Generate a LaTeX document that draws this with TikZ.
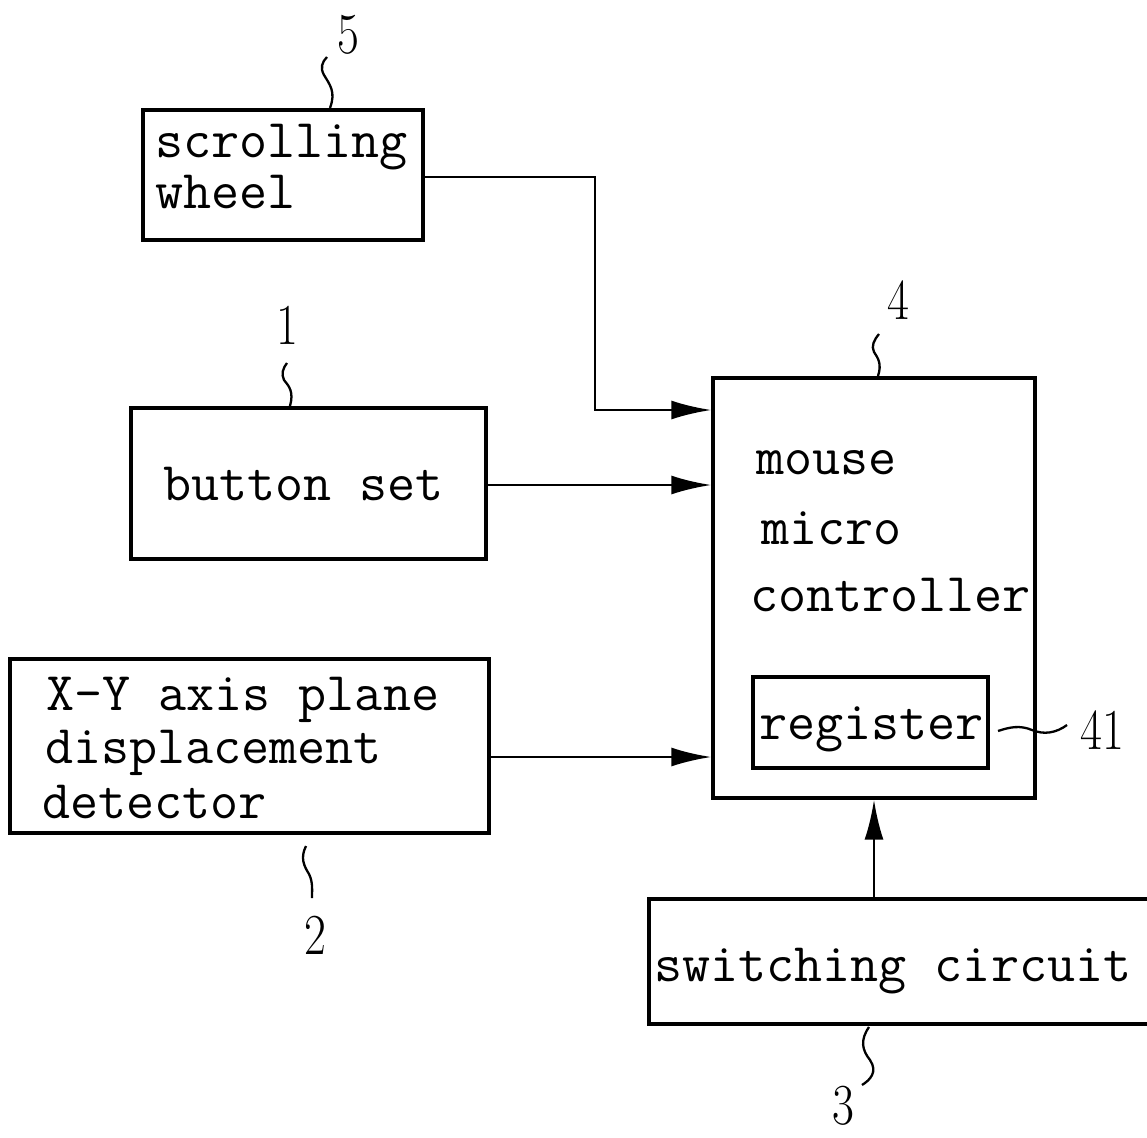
\documentclass[tikz,border=0pt]{standalone}
\usetikzlibrary{arrows.meta,calc}
\begin{document}
\begin{tikzpicture}[x=1pt,y=-1pt,
  box/.style={draw,line width=3.2pt,rectangle,inner sep=0pt},
  txt/.style={font=\fontsize{54.5}{56}\ttfamily,inner sep=0pt,anchor=base west},
  num/.style={font=\fontsize{58}{60}\selectfont,inner sep=0pt,xscale=0.82},
  arr/.style={line width=2.8pt,-{Latex[length=40pt,width=19pt]}},
  lead/.style={line width=2.3pt}]
\useasboundingbox (0,0) rectangle (1147,1137);
% boxes
\node[box,minimum width=280pt,minimum height=130pt] (wheel) at (283,175) {};
\node[box,minimum width=355pt,minimum height=151pt] (btn) at (308.5,483.5) {};
\node[box,minimum width=479pt,minimum height=174pt] (xy) at (249.5,746) {};
\node[box,minimum width=322pt,minimum height=420pt] (mcu) at (874,588) {};
\node[box,minimum width=235pt,minimum height=91pt] (reg) at (870.5,722.5) {};
\node[box,minimum width=520pt,minimum height=125pt] (sw) at (909,961.5) {};
% texts
\node[txt] (t1) at (155,157) {scrolling};
\node[txt] (t2) at (155,208) {wheel};
\node[txt] (t3) at (163,500) {button set};
\node[txt] (t4) at (46,710) {X-Y axis plane};
\node[txt] (t5) at (45,763) {displacement};
\node[txt] (t6) at (42,818) {detector};
\node[txt] (t7) at (756,474) {mouse};
\node[txt] (t8) at (761,544) {micro};
\node[txt] (t9) at (750,611) {controller};
\node[txt] (t10) at (759,739) {register};
\node[txt] (t11) at (654,981) {switching circuit};
% reference numerals
\node[num] (n5) at (348,35) {5};
\node[num] (n1) at (287,325) {1};
\node[num] (n4) at (898,300) {4};
\node[num] (n2) at (315,935) {2};
\node[num] (n41) at (1102,730) {41};
\node[num] (n3) at (843,1106) {3};
% leaders
\coordinate (l5a) at (330,108); \coordinate (l5b) at (327,57);
\draw[lead] (l5a) .. controls (336,92) and (330,85) .. (324,75) .. controls (320,68) and (322,62) .. (l5b);
\coordinate (l1a) at (290,406); \coordinate (l1b) at (287,363);
\draw[lead] (l1a) .. controls (294,392) and (289,386) .. (284,380) .. controls (281,374) and (283,368) .. (l1b);
\coordinate (l4a) at (878,376); \coordinate (l4b) at (879,334);
\draw[lead] (l4a) .. controls (882,364) and (878,358) .. (874,352) .. controls (871,346) and (874,340) .. (l4b);
\coordinate (l2a) at (306,846); \coordinate (l2b) at (312,898);
\draw[lead] (l2a) .. controls (300,858) and (304,866) .. (309,874) .. controls (313,882) and (312,890) .. (l2b);
\coordinate (l3a) at (869,1027); \coordinate (l3b) at (862,1085);
\draw[lead] (l3a) .. controls (860,1040) and (862,1050) .. (870,1060) .. controls (878,1072) and (870,1080) .. (l3b);
\coordinate (l41a) at (998,731); \coordinate (l41b) at (1067,725);
\draw[lead] (l41a) .. controls (1010,727) and (1020,725) .. (1032,730) .. controls (1044,735) and (1056,733) .. (l41b);
% connectors
\coordinate (bend) at (595,410);
\draw[arr] ([yshift=-2pt]wheel.east) -| (bend) -- (bend -| mcu.west);
\draw[arr] ([yshift=-1.5pt]btn.east) -- ([yshift=-1.5pt]btn.east -| mcu.west);
\draw[arr] ([yshift=-11pt]xy.east) -- ([yshift=-11pt]xy.east -| mcu.west);
\draw[arr] (mcu.south |- sw.north) -- (mcu.south);
\end{tikzpicture}
\end{document}
